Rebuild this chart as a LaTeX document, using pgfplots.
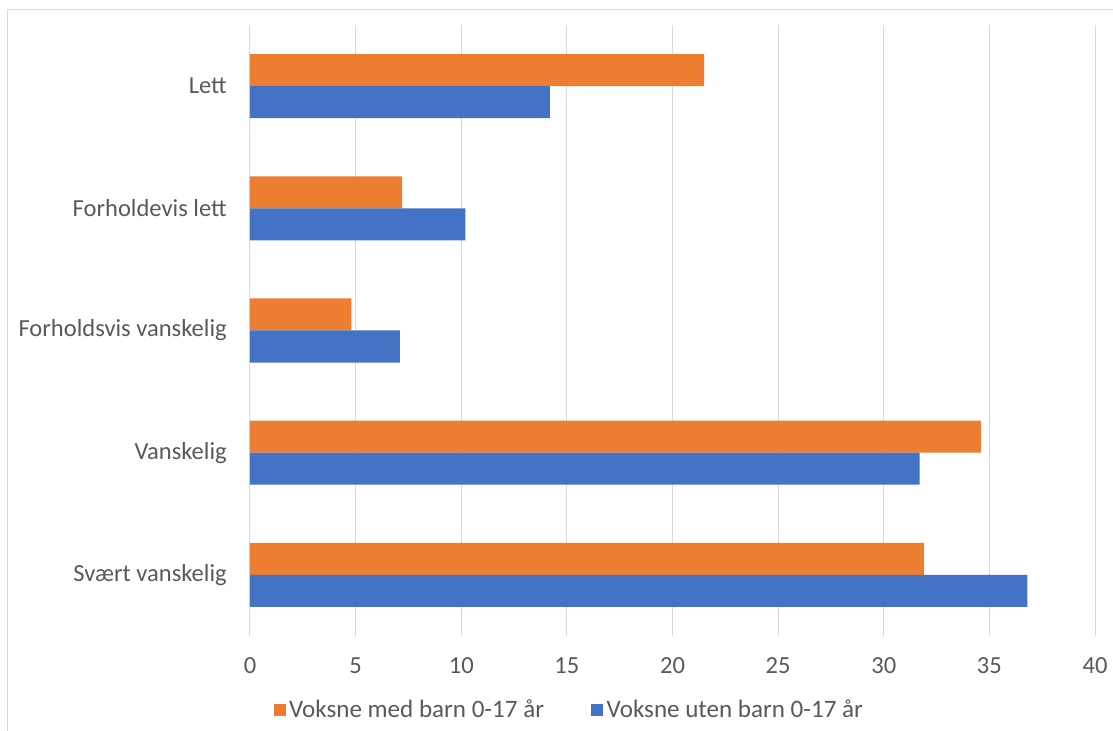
\documentclass[border=0pt]{standalone}
\usepackage{fontspec}
\setmainfont{Carlito}
\usepackage{pgfplots}
\pgfplotsset{compat=1.18}
\usetikzlibrary{calc}
\definecolor{myorange}{HTML}{ED7D31}
\definecolor{myblue}{HTML}{4472C4}
\definecolor{gridc}{HTML}{D9D9D9}
\definecolor{txt}{HTML}{595959}
\pgfplotsset{sqlegend/.style={legend image code/.code={\fill[##1] (0pt,-4.5pt) rectangle (9pt,4.5pt);}}}
\begin{document}
\begin{tikzpicture}
\begin{axis}[name=ax, scale only axis, width=633.75pt, height=458.25pt,
  xmin=0, xmax=40, ymin=-0.5, ymax=4.5,
  xtick={0,5,...,40}, ytick={0,1,2,3,4},
  yticklabels={Svært vanskelig, Vanskelig, Forholdsvis vanskelig, Forholdevis lett, Lett},
  xmajorgrids, grid style={gridc, line width=0.75pt},
  axis line style={draw=none}, major tick length=0pt,
  tick label style={font=\fontsize{18.4}{21}\selectfont, text=txt},
  /pgf/number format/assume math mode=true,
  xticklabel style={anchor=north, inner sep=0pt, yshift=-15.75pt},
  yticklabel style={anchor=east, inner sep=0pt, xshift=-17.25pt},
  legend style={at={(0.3787,-0.1211)}, anchor=center, draw=none, fill=none,
    legend columns=2, font=\fontsize{18.8}{21}\selectfont, text=txt,
    nodes={inner xsep=2.5pt, inner ysep=1pt},
    /tikz/every even column/.append style={column sep=33pt}},
]
\addplot[xbar, bar width=0.262, bar shift=0.131, fill=myorange, draw=none, sqlegend]
  coordinates {(31.9,0) (34.6,1) (4.8,2) (7.2,3) (21.5,4)};
\addlegendentry{Voksne med barn 0-17 år}
\addplot[xbar, bar width=0.262, bar shift=-0.131, fill=myblue, draw=none, sqlegend]
  coordinates {(36.8,0) (31.7,1) (7.1,2) (10.2,3) (14.2,4)};
\addlegendentry{Voksne uten barn 0-17 år}
\end{axis}
\draw[gridc, line width=0.75pt] ($(ax.south west)+(-181.5pt,-71.25pt)$) -- ($(ax.north west)+(-181.5pt,11.25pt)$) -- ($(ax.north east)+(13.5pt,11.25pt)$);
\pgfresetboundingbox
\useasboundingbox ($(ax.south west)+(-187.5pt,-71.25pt)$) rectangle ($(ax.north east)+(13.5pt,18.75pt)$);
\end{tikzpicture}
\end{document}
